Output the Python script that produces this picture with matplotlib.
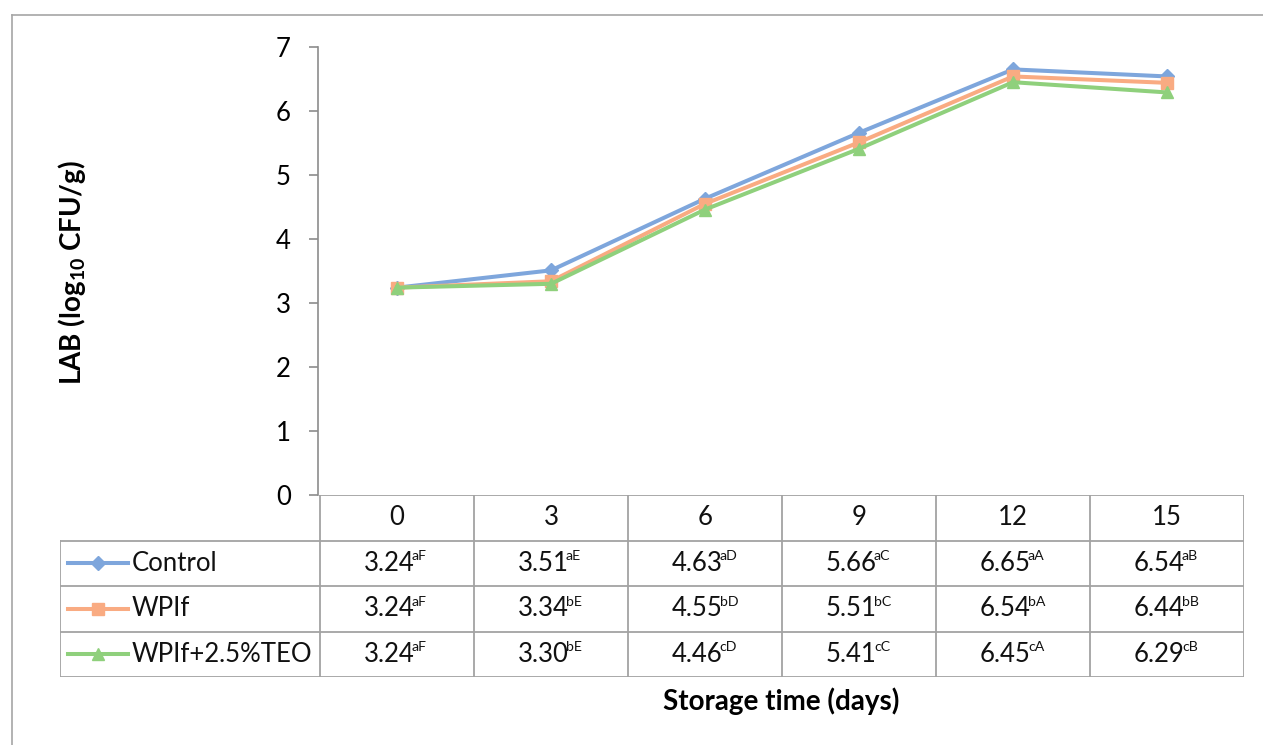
import matplotlib
matplotlib.use('Agg')
import matplotlib.pyplot as plt
from matplotlib.lines import Line2D

plt.rcParams['font.family'] = ['Lato', 'DejaVu Sans']
plt.rcParams['mathtext.fontset'] = 'custom'
plt.rcParams['mathtext.rm'] = 'Lato'
plt.rcParams['mathtext.bf'] = 'Lato:bold'

days = ['0', '3', '6', '9', '12', '15']
series_names = ['Control', 'WPIf', 'WPIf+2.5%TEO']
control = [3.24, 3.51, 4.63, 5.66, 6.65, 6.54]
wpif = [3.24, 3.34, 4.55, 5.51, 6.54, 6.44]
teo = [3.24, 3.30, 4.46, 5.41, 6.45, 6.29]
control_sup = ['aF', 'aE', 'aD', 'aC', 'aA', 'aB']
wpif_sup = ['aF', 'bE', 'bD', 'bC', 'bA', 'bB']
teo_sup = ['aF', 'bE', 'cD', 'cC', 'cA', 'cB']

colors = ['#7ea6dc', '#f9ab82', '#8fd07c']
markers = ['D', 's', '^']
msizes = [7, 9, 9]
grid_c = '#a3a3a3'
fs = 18.5

W, H = 1263, 745
fig = plt.figure(figsize=(W / 100, H / 100), dpi=100)

# outer frame (top and left only)
fig.add_artist(Line2D([12 / W, 1], [1 - 15 / H, 1 - 15 / H], color='#a6a6a6', lw=1.2))
fig.add_artist(Line2D([12 / W, 12 / W], [0, 1 - 15 / H], color='#a6a6a6', lw=1.2))

# main plot
ax = fig.add_axes([318 / W, 1 - 495 / H, (1244 - 318) / W, (495 - 47) / H])
xs = list(range(len(days)))
for vals, c, m, ms in zip([control, wpif, teo], colors, markers, msizes):
    ax.plot(xs, vals, color=c, lw=2.9, marker=m, ms=ms, mec=c, mfc=c)
ax.set_xlim(-0.5 - 2 / 154, 5.5)
ax.set_ylim(0, 7)
ax.set_yticks(range(8))
ax.set_xticks([])
for s in ['top', 'right', 'bottom']:
    ax.spines[s].set_visible(False)
ax.spines['left'].set_color('#8c8c8c')
ax.spines['left'].set_linewidth(1.2)
ax.tick_params(axis='y', length=6.5, width=1.2, color='#8c8c8c', pad=13, labelsize=fs)

# data table
tab = fig.add_axes([60 / W, 1 - 677 / H, (1244 - 60) / W, (677 - 495) / H])
left_edge = -0.5 - 260 / 154
tab.set_xlim(left_edge, 5.5)
tab.set_ylim(4, 0)
tab.axis('off')
# horizontal lines
tab.plot([-0.5, 5.5], [0, 0], color=grid_c, lw=1.3)
for r in [1, 2, 3, 4]:
    tab.plot([left_edge, 5.5], [r, r], color=grid_c, lw=1.3)
# vertical lines
tab.plot([left_edge, left_edge], [1, 4], color=grid_c, lw=1.3)
for i in range(len(days) + 1):
    tab.plot([i - 0.5, i - 0.5], [0, 4], color=grid_c, lw=1.3)

for i, d in enumerate(days):
    tab.text(i, 0.5, d, ha='center', va='center', fontsize=fs, color='#111111')

rows = [(control, control_sup), (wpif, wpif_sup), (teo, teo_sup)]
for r, (vals, sups) in enumerate(rows):
    y = r + 1.5
    for i, (v, s) in enumerate(zip(vals, sups)):
        t = tab.text(i - 8 / 154, y, '%.2f' % v, ha='center', va='center',
                     fontsize=fs, color='#111111')
        tab.annotate(s, xy=(1, 1), xycoords=t, xytext=(-1.8, 0.5), textcoords='offset points',
                     ha='left', va='top', fontsize=fs * 0.55, color='#111111')
    # legend key
    x0 = left_edge + 8 / 154
    x1 = left_edge + 68 / 154
    tab.plot([x0, x1], [y, y], color=colors[r], lw=2.9)
    tab.plot([(x0 + x1) / 2], [y], color=colors[r], marker=markers[r], ms=msizes[r])
    tab.text(left_edge + 72 / 154, y, series_names[r], ha='left', va='center',
             fontsize=fs, color='#111111')

fig.text(72 / W, 1 - 272 / H, 'LAB (log$_{\\mathbf{10}}$ CFU/g)', rotation=90,
         ha='center', va='center', fontsize=20, fontweight='bold')
fig.text(781 / W, 1 - 701 / H, 'Storage time (days)', ha='center', va='center',
         fontsize=20, fontweight='bold')

fig.savefig('out.png', dpi=100)
